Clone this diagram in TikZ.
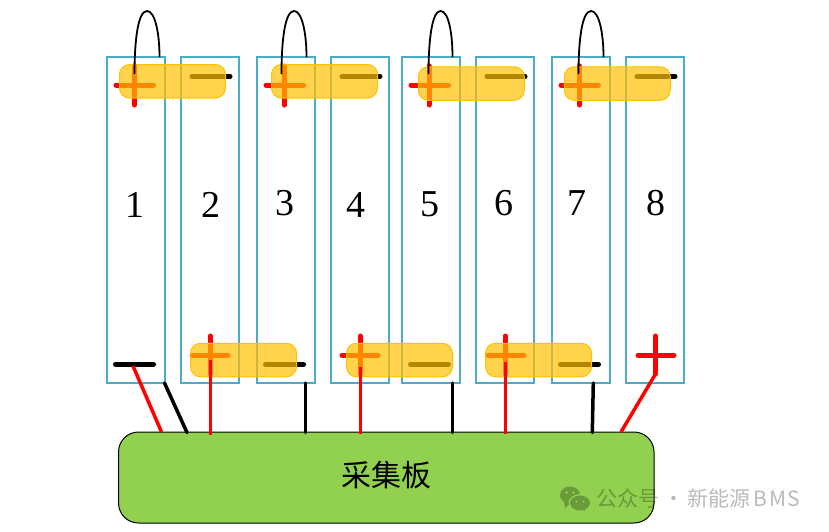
\documentclass[tikz,border=0pt]{standalone}
\usepackage{fontspec}
\setmainfont{Liberation Serif}
\newfontfamily\cjk{Noto Sans CJK SC}
\newfontfamily\wm{Noto Sans CJK SC}
\newfontfamily\wmb[LetterSpace=8]{Noto Sans CJK SC}
\definecolor{cellc}{HTML}{4BACC6}
\definecolor{barc}{HTML}{FFC000}
\definecolor{boardc}{HTML}{92D050}
\tikzset{
  x=1pt,y=-1pt,
  cell/.style={draw=cellc,line width=2pt,rectangle,inner sep=0pt,minimum width=58pt,minimum height=326pt},
  digit/.style={inner sep=0pt,font=\fontsize{38}{38}\selectfont},
  redterm/.style={draw=red,line width=5pt,line cap=round},
  blackterm/.style={draw=black,line width=5pt,line cap=round},
  bar/.style={draw=barc,line width=1pt,fill=barc,fill opacity=.7,rectangle,rounded corners=10pt,inner sep=0pt,minimum width=106pt,minimum height=33.5pt},
  redwire/.style={draw=red,line width=3.5pt},
  blackwire/.style={draw=black,line width=3.5pt,line cap=round},
  jumper/.style={draw=black,line width=1.8pt},
  board/.style={draw=black,line width=1pt,fill=boardc,rectangle,rounded corners=20pt,inner sep=0pt,minimum width=535.5pt,minimum height=91pt},
}
\begin{document}
\begin{tikzpicture}
\useasboundingbox (0,0) rectangle (829,531);
% cells
\foreach \n/\cx in {1/135.5,2/209.5,3/285.5,4/359.5,5/430.75,6/505,7/580.5,8/655}
  \node[cell] (c\n) at (\cx,220) {};
\node[digit] (d1) at (135,205) {1};
\node[digit] (d2) at (211,205) {2};
\node[digit] (d3) at (285,203) {3};
\node[digit] (d4) at (356,205) {4};
\node[digit] (d5) at (430,204) {5};
\node[digit] (d6) at (504,203) {6};
\node[digit] (d7) at (577,203) {7};
\node[digit] (d8) at (656,203) {8};
% top terminals
\foreach \x/\v in {114.5/134.5,264.5/284.3,409.5/429,559.5/579.5}{
  \draw[redterm] (\x+1.5,85) -- (\x+39,85);
  \draw[redterm] (\v,66) -- (\v,105);
}
\foreach \x in {191,341,486,636}
  \draw[blackterm] (\x+1,76.3) -- (\x+39,76.3);
% bottom terminals
\foreach \x in {115.5,265.5,410.5,560.5}
  \draw[blackterm] (\x,364.3) -- (\x+38,364.3);
\foreach \x/\v in {190/210.5,340/360.3,486/505.3,636/655.5}{
  \draw[redterm] (\x+2,355.3) -- (\x+38,355.3);
  \draw[redterm] (\v,336) -- (\v,374);
}
% bars
\node[bar] (b1) at (172.5,81.25) {};
\node[bar] (b3) at (324.5,81.25) {};
\node[bar] (b5) at (471.25,83.5) {};
\node[bar] (b7) at (617.25,83.5) {};
\node[bar] (b2) at (243.5,360) {};
\node[bar] (b4) at (399.5,360) {};
\node[bar] (b6) at (538.5,360) {};
% board
\node[board] (pcb) at (386.25,477.5) {};
\node[inner sep=0pt,font=\cjk\fontsize{30}{30}\selectfont] (pcbl) at (386.5,475) {采集板};
% wire ends
\foreach \n/\x/\y in {a/133/366,b/210.5/360,c/360.3/367,d/505.3/362,e/655.5/374}
  \coordinate (s\n) at (\x,\y);
\foreach \n/\x/\y in {a/161.5/432,b/210.5/435,c/360.3/434,d/505.3/434,e/621/432}
  \coordinate (t\n) at (\x,\y);
\foreach \n in {a,b,c,d,e} \draw[redwire] (s\n) -- (t\n);
\foreach \n/\xa/\xb in {f/164.5/187,g/305.3/305.3,h/452.3/452.3,i/593.3/592.3}{
  \coordinate (s\n) at (\xa,383);
  \coordinate (t\n) at (\xb,432.5);
  \draw[blackwire] (s\n) -- (t\n);
}
% jumpers
\foreach \n/\x/\w in {1/134.5/12.5,3/281.5/12.5,5/428.5/12,7/578.5/12.5}{
  \coordinate (ja\n) at (\x,74);
  \coordinate (jt\n) at (\x+\w,11);
  \coordinate (jb\n) at (\x+2*\w,57);
  \draw[jumper] (ja\n) .. controls (\x,40) and (\x+3.5,11) .. (jt\n)
     .. controls (\x+\w+8,11) and (\x+2*\w,33) .. (jb\n);
}
% watermark
\definecolor{wmdark}{HTML}{6B9A3A}
\fill[wmdark] (570,495) ellipse (10pt and 8.5pt);
\fill[wmdark] (564,501) -- (565,508) -- (572,502) -- cycle;
\fill[boardc] (580,503) ellipse (11.5pt and 9pt);
\fill[wmdark] (580,503) ellipse (10pt and 7.5pt);
\fill[wmdark] (583,508) -- (586,511) -- (578,509) -- cycle;
\fill[boardc] (566.5,492.5) circle (1.3pt) (573.5,492.5) circle (1.3pt) (576.5,501.5) circle (1.1pt) (583.5,501.5) circle (1.1pt);
\begin{scope}[opacity=.27]
\node[inner sep=0pt,anchor=west,font=\wm\fontsize{21}{21}\selectfont,text=black] (wm) at (596.5,498) {公众号\,·\,新能源\hspace{3pt}{\wmb BMS}};
\end{scope}
\end{tikzpicture}
\end{document}
